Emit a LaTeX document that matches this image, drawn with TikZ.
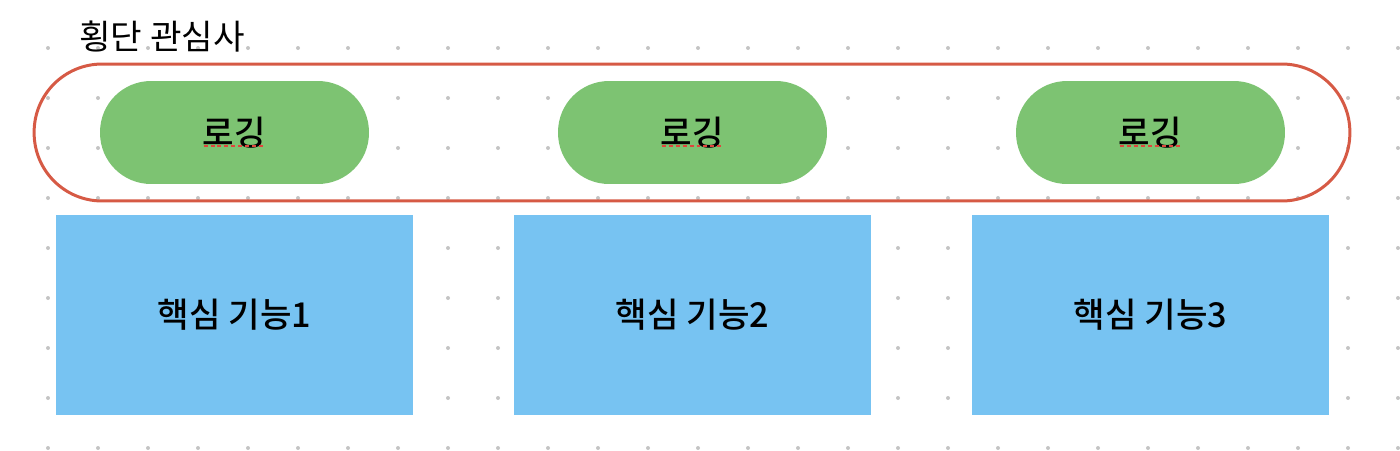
\documentclass[tikz,border=0pt]{standalone}
\usepackage{fontspec}
\setmainfont{Noto Sans CJK KR}
\newfontfamily\medfont{Noto Sans CJK KR Medium}
\usetikzlibrary{positioning, calc}
\definecolor{logGreen}{HTML}{7DC372}
\definecolor{coreBlue}{HTML}{77C3F2}
\definecolor{aspectRed}{HTML}{D65A45}
\definecolor{spellRed}{HTML}{E0463C}
\definecolor{dotGray}{HTML}{C4C4C4}

\begin{document}
\begin{tikzpicture}[
    x=0.02cm, y=-0.02cm,
    dot/.style={fill=dotGray, draw=none},
    lbl/.style={font=\fontsize{19.5}{22}\selectfont\medfont, inner sep=0pt},
    logbox/.style={lbl, fill=logGreen, rounded corners=1.02cm, minimum width=5.38cm, minimum height=2.06cm},
    corebox/.style={lbl, fill=coreBlue, minimum width=7.16cm, minimum height=4cm},
    aspect/.style={draw=aspectRed, line width=0.06cm, rounded corners=1.36cm, minimum width=26.32cm, minimum height=2.74cm, inner sep=0pt},
    spell/.style={draw=spellRed, line width=0.04cm, dash pattern=on 0.08cm off 0.06cm},
]
\useasboundingbox (0,0) rectangle (1400,450);
% === Dot grid ===
\foreach \i in {0,...,27}
  \foreach \j in {0,...,8}
    \fill[dot] (48+50*\i, 48+50*\j) circle[radius=0.04cm];
% === Cross-cutting concern ===
\node[aspect] (aspect) at (692, 132.5) {};
\node[font=\fontsize{19.5}{22}\selectfont, anchor=west, inner sep=0pt] (title) at (79, 37) {횡단 관심사};
% === Logging ===
\node[logbox] (log1) at (234.5, 132.5) {로깅};
\node[logbox] (log2) at (692.5, 132.5) {로깅};
\node[logbox] (log3) at (1150.5, 132.5) {로깅};
\foreach \n in {log1, log2, log3}
  \draw[spell] ($(\n.center)+(-31,13.5)$) -- ($(\n.center)+(29,13.5)$);
% === Core functions ===
\node[corebox, below=0.6cm of log1] (core1) {핵심 기능1};
\node[corebox, below=0.6cm of log2] (core2) {핵심 기능2};
\node[corebox, below=0.6cm of log3] (core3) {핵심 기능3};
\end{tikzpicture}
\end{document}
